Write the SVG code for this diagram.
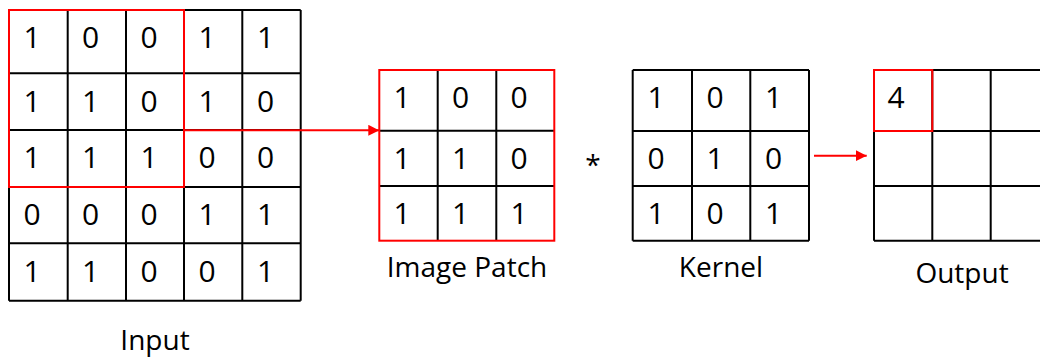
<svg xmlns="http://www.w3.org/2000/svg" width="1040" height="358" viewBox="0 0 1040 358">
<defs>
<style>
.g{fill:none;stroke:#000;stroke-width:2}
.r{fill:none;stroke:#ff0000;stroke-width:2}
.d{font-family:"Open Sans","Liberation Sans",sans-serif;font-size:30px;fill:#000;text-anchor:middle}
.l{font-family:"Open Sans","Liberation Sans",sans-serif;font-size:28px;fill:#000;text-anchor:middle}
</style>
<marker id="ah" viewBox="0 0 10 10" refX="10" refY="5" markerWidth="11" markerHeight="11" markerUnits="userSpaceOnUse" orient="auto">
<path d="M0,0 L10,5 L0,10 Z" fill="#ff0000"/>
</marker>
</defs>
<rect width="1040" height="358" fill="#fff"/>

<g id="input">
<path class="g" d="M9,10H300.7M9,73.3H300.7M9,130H300.7M9,187H300.7M9,243.3H300.7M9,300.7H300.7M9,10V300.7M67.7,10V300.7M126,10V300.7M184,10V300.7M242.3,10V300.7M300.7,10V300.7"/>
<g class="d">
<text x="32" y="48">1</text><text x="90.5" y="48">0</text><text x="149" y="48">0</text><text x="207" y="48">1</text><text x="265.5" y="48">1</text>
<text x="32" y="111.5">1</text><text x="90.5" y="111.5">1</text><text x="149" y="111.5">0</text><text x="207" y="111.5">1</text><text x="265.5" y="111.5">0</text>
<text x="32" y="168">1</text><text x="90.5" y="168">1</text><text x="149" y="168">1</text><text x="207" y="168">0</text><text x="265.5" y="168">0</text>
<text x="32" y="225">0</text><text x="90.5" y="225">0</text><text x="149" y="225">0</text><text x="207" y="225">1</text><text x="265.5" y="225">1</text>
<text x="32" y="281.5">1</text><text x="90.5" y="281.5">1</text><text x="149" y="281.5">0</text><text x="207" y="281.5">0</text><text x="265.5" y="281.5">1</text>
</g>
<rect class="r" x="9" y="10" width="175" height="177"/>
<text class="l" x="155" y="350">Input</text>
</g>

<g id="patch">
<path class="g" d="M379.3,130.7H554.3M379.3,186H554.3M437.7,70V240.7M496.3,70V240.7"/>
<rect class="r" x="379.3" y="70" width="175" height="170.7"/>
<g class="d">
<text x="402" y="108.3">1</text><text x="460.5" y="108.3">0</text><text x="519" y="108.3">0</text>
<text x="402" y="169">1</text><text x="460.5" y="169">1</text><text x="519" y="169">0</text>
<text x="402" y="224.3">1</text><text x="460.5" y="224.3">1</text><text x="519" y="224.3">1</text>
</g>
<text class="l" x="467" y="277">Image Patch</text>
</g>

<g id="star">
<text class="l" x="593" y="175">*</text>
</g>

<g id="kernel">
<path class="g" d="M632.7,70H809M632.7,131H809M632.7,186H809M632.7,240.7H809M632.7,70V240.7M692,70V240.7M750.3,70V240.7M809,70V240.7"/>
<g class="d">
<text x="656" y="108.3">1</text><text x="715" y="108.3">0</text><text x="773.5" y="108.3">1</text>
<text x="656" y="169">0</text><text x="715" y="169">1</text><text x="773.5" y="169">0</text>
<text x="656" y="224.3">1</text><text x="715" y="224.3">0</text><text x="773.5" y="224.3">1</text>
</g>
<text class="l" x="721" y="277">Kernel</text>
</g>

<g id="output">
<path class="g" d="M874,70H1050M874,131H1050M874,186H1050M874,240.7H1050M874,70V240.7M932.3,70V240.7M990.7,70V240.7"/>
<rect class="r" x="874" y="70" width="58.3" height="61"/>
<text class="d" x="896" y="108.3">4</text>
<text class="l" x="962" y="283">Output</text>
</g>

<g id="connectors">
<path class="r" d="M184,130.3H379.3" marker-end="url(#ah)"/>
<path class="r" d="M814,155.7H866.7" marker-end="url(#ah)"/>
</g>
</svg>
